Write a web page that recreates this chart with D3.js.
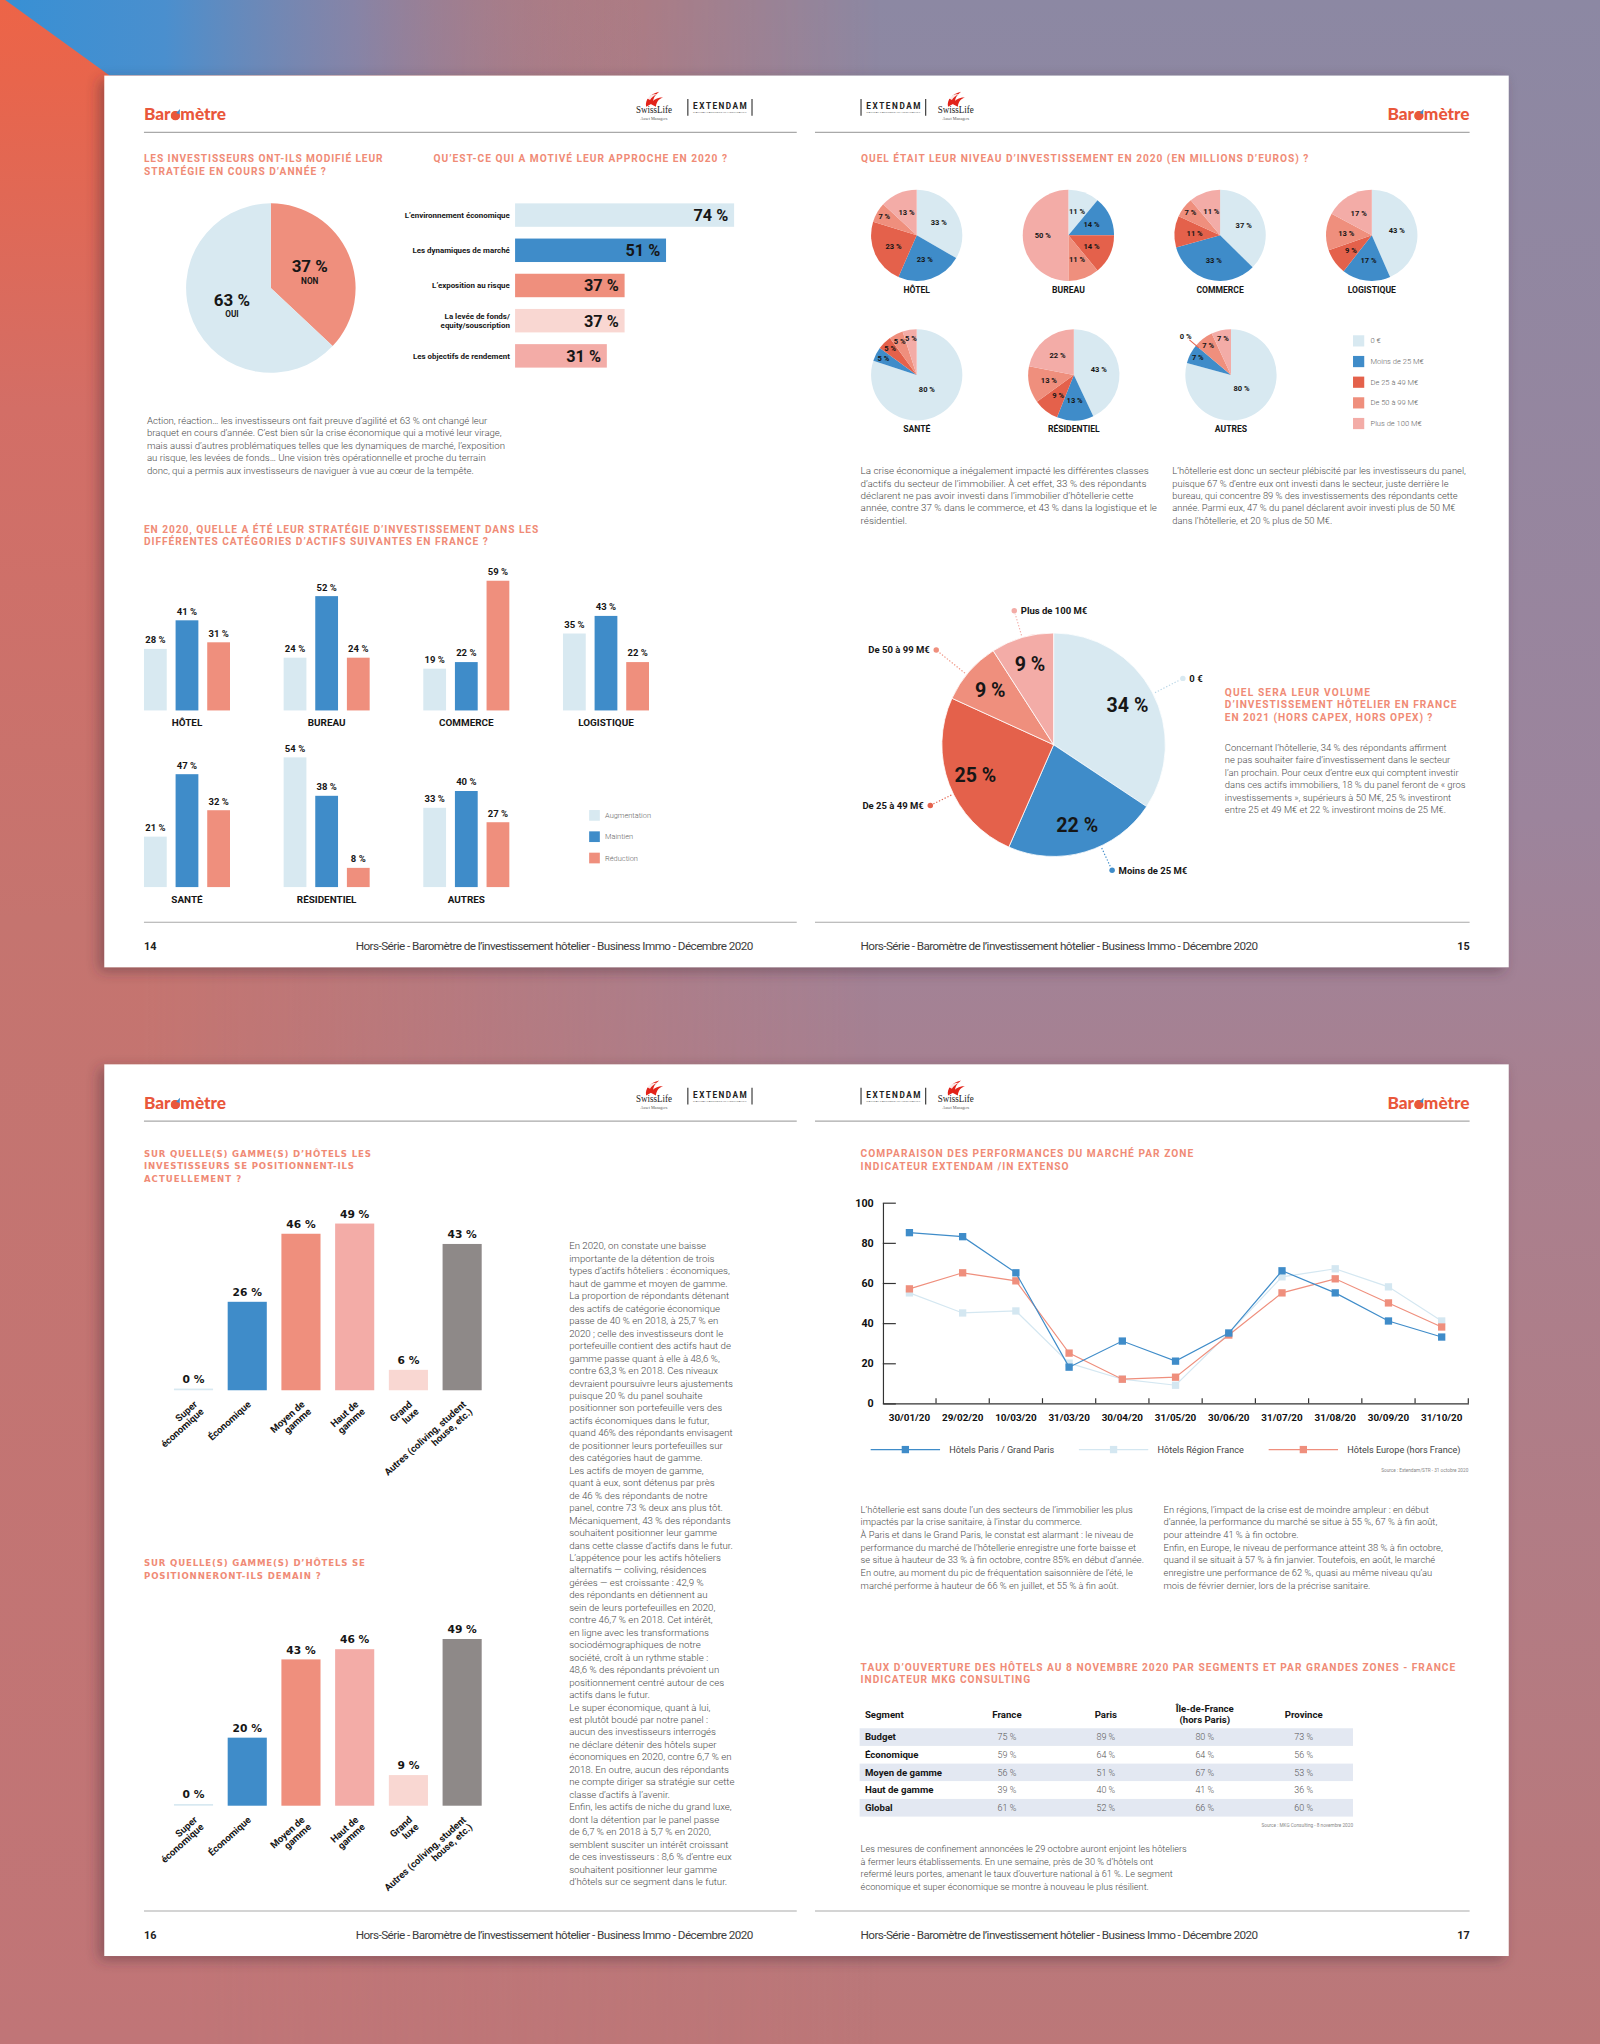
<!DOCTYPE html>
<html lang="fr"><head><meta charset="utf-8"><title>Baromètre</title>
<script src="https://cdn.jsdelivr.net/npm/d3@7/dist/d3.min.js"></script>
<style>html,body{margin:0;padding:0;background:#a87f8e;overflow:hidden}svg{display:block}</style>
</head><body>
<svg id="c" width="1600" height="2044" viewBox="0 0 1227 1568" preserveAspectRatio="none"></svg>
<script>
// ================= DATA =================
const changeLabels = ["OUI", "NON"];
const changeValues = [63, 37];

const motiveLabels = [["L’environnement économique"], ["Les dynamiques de marché"], ["L’exposition au risque"], ["La levée de fonds/", "equity/souscription"], ["Les objectifs de rendement"]];
const motiveValues = [74, 51, 37, 37, 31];

const assetCats = ["HÔTEL", "BUREAU", "COMMERCE", "LOGISTIQUE", "SANTÉ", "RÉSIDENTIEL", "AUTRES"];
const stratSeries = ["Augmentation", "Maintien", "Réduction"];
const stratAugmentation = [28, 24, 19, 35, 21, 54, 33];
const stratMaintien = [41, 52, 22, 43, 47, 38, 40];
const stratReduction = [31, 24, 59, 22, 32, 8, 27];

const investLevels = ["0 €", "Moins de 25 M€", "De 25 à 49 M€", "De 50 à 99 M€", "Plus de 100 M€"];
const invest0 = [33, 11, 37, 43, 80, 43, 80];
const investLt25 = [23, 14, 33, 17, 5, 13, 7];
const invest25to49 = [23, 14, 11, 9, 5, 9, 0];
const invest50to99 = [7, 11, 7, 13, 5, 13, 7];
const investGt100 = [13, 50, 11, 17, 5, 22, 7];

const hotel2021 = [34, 22, 25, 9, 9];

const gammeLabels = [["Super", "économique"], ["Économique"], ["Moyen de", "gamme"], ["Haut de", "gamme"], ["Grand", "luxe"], ["Autres (coliving, student", "house, etc.)"]];
const gammeNow = [0, 26, 46, 49, 6, 43];
const gammeFuture = [0, 20, 43, 46, 9, 49];

const perfDates = ["30/01/20", "29/02/20", "10/03/20", "31/03/20", "30/04/20", "31/05/20", "30/06/20", "31/07/20", "31/08/20", "30/09/20", "31/10/20"];
const perfParis = [85, 83, 65, 18, 31, 21, 35, 66, 55, 41, 33];
const perfRegion = [55, 45, 46, 20, 12, 9, 35, 63, 67, 58, 41];
const perfEurope = [57, 65, 61, 25, 12, 13, 34, 55, 62, 50, 38];
const perfTicks = [0, 20, 40, 60, 80, 100];

const tableSegments = ["Budget", "Économique", "Moyen de gamme", "Haut de gamme", "Global"];
const tableZones = ["France", "Paris", "Île-de-France|(hors Paris)", "Province"];
const openFrance = [75, 59, 56, 39, 61];
const openParis = [89, 64, 51, 40, 52];
const openIdf = [80, 64, 67, 41, 66];
const openProvince = [73, 56, 53, 36, 60];

// ================= STYLE / LAYOUT =================
const C = {light:"#d8e9f1", blue:"#3f8cc9", red:"#e4614b", salmon:"#ef8f7d", pink:"#f3aca7", blush:"#f9d7d2",
  grey:"#8e8988", title:"#f08b76", brand:"#e9573b", text:"#4a4a4a", dark:"#161616"};
const investColors = [C.light, C.blue, C.red, C.salmon, C.pink];
const motiveColors = [C.light, C.blue, C.salmon, C.blush, C.pink];
const stratColors = [C.light, C.blue, C.salmon];
const gammeColors = [C.light, C.blue, C.salmon, C.pink, C.blush, C.grey];
// callout placement tweaks for the 2021 pie (degrees shift, radius factor)
const calloutShift = [1, -8.6, -5.3, -2, 0];
const calloutDist = [1.3, 1.24, 1.23, 1.35, 1.25];
const F = {body:"Roboto, 'Open Sans', sans-serif", narrow:"'Liberation Sans Narrow', 'Roboto', sans-serif",
  wide:"'DejaVu Sans', Verdana, sans-serif", title:"Roboto, 'Open Sans', sans-serif", serif:"'Liberation Serif', serif",
  brand:"Lato, 'Open Sans', sans-serif"};

const svg = d3.select("#c");
const defs = svg.append("defs");

function txt(g, x, y, s, o = {}) {
  const t = g.append("text").attr("x", x).attr("y", y).text(s)
    .attr("font-family", o.f || F.body).attr("font-size", o.s || 7).attr("font-weight", o.w || 400)
    .attr("fill", o.c || "#222").attr("text-anchor", o.a || "start");
  if (o.ls) t.attr("letter-spacing", o.ls);
  if (o.len) t.attr("textLength", o.len).attr("lengthAdjust", o.adj || "spacing");
  if (o.dy) t.attr("dy", o.dy);
  return t;
}
function titleLines(g, x, ys, lines, lens, o = {}) {
  lines.forEach((l, i) => txt(g, x, ys[i], l, {f: o.f || F.title, w: 700, s: o.s || 7.8, c: C.title, len: lens[i]}));
}
function para(g, x, y, lh, lines, o = {}) {
  const t = g.append("text").attr("font-family", o.f || F.body).attr("font-weight", o.w || 300)
    .attr("font-size", o.s || 6.6).attr("fill", o.c || C.text);
  lines.forEach((l, i) => t.append("tspan").attr("x", x).attr("y", y + i * lh).text(l));
  if (o.fit) {
    const n = t.selectAll("tspan").nodes()[o.fit[0]];
    const w = n.getComputedTextLength();
    if (w > 0) t.attr("font-size", (o.s || 6.6) * o.fit[1] / w);
  }
  return t;
}

// ================= BACKGROUND =================
function lg(id, x2, y2, stops) {
  const g = defs.append("linearGradient").attr("id", id).attr("x1", 0).attr("y1", 0).attr("x2", x2).attr("y2", y2);
  stops.forEach(s => g.append("stop").attr("offset", s[0]).attr("stop-color", s[1]).attr("stop-opacity", s.length > 2 ? s[2] : 1));
}
lg("bgV", 0, 1, [[0, "#8c88a3"], [0.4, "#9c849c"], [0.55, "#a9808f"], [1, "#bc7778"]]);
lg("leftV", 0, 1, [[0, "#ed6447"], [0.04, "#e8654c"], [0.2, "#d36e66"], [0.45, "#c5746f"], [1, "#c07577"]]);
lg("leftM", 1, 0, [[0, "#fff"], [0.09, "#fff"], [0.55, "#000"]]);
lg("blueH", 1, 0, [[0, "#3890d4"], [0.1, "#4a8fce"], [0.22, "#6e8bbd", 0.75], [0.4, "#8c88a3", 0]]);
defs.append("mask").attr("id", "lm").attr("maskUnits", "userSpaceOnUse").attr("x", 0).attr("y", 0).attr("width", 1227).attr("height", 1568)
  .append("rect").attr("width", 1227).attr("height", 1568).attr("fill", "url(#leftM)");
const sh = defs.append("filter").attr("id", "sh").attr("x", -0.05).attr("y", -0.05).attr("width", 1.1).attr("height", 1.12);
sh.append("feDropShadow").attr("dx", -4).attr("dy", 3).attr("stdDeviation", 5).attr("flood-color", "#4a2a3a").attr("flood-opacity", 0.45);

svg.append("rect").attr("width", 1227).attr("height", 1568).attr("fill", "url(#bgV)");
svg.append("rect").attr("width", 1227).attr("height", 1568).attr("fill", "url(#leftV)").attr("mask", "url(#lm)");
svg.append("polygon").attr("points", "4,0 84,58 1227,58 1227,0").attr("fill", "url(#blueH)");
[58, 816.5].forEach(y => svg.append("rect").attr("x", 80).attr("y", y).attr("width", 1077).attr("height", 684)
  .attr("fill", "#fff").attr("filter", "url(#sh)"));

// ================= HEADER / FOOTER =================
function brand(g, x, y, anchor) {
  const t = txt(g, x, y, "Baromètre", {f: F.brand, w: 900, s: 12.6, c: C.brand, a: anchor, len: 63, adj: "spacingAndGlyphs"});
  try {
    const e = t.node().getExtentOfChar(3);
    const cx = e.x + e.width / 2, cy = y - 3.3;
    g.append("circle").attr("cx", cx).attr("cy", cy).attr("r", 3.4).attr("fill", C.brand);
    g.append("path").attr("d", `M${cx + 0.6},${cy - 2.2} L${cx + 3.6},${cy - 5.2} L${cx + 3.2},${cy - 1.2} Z`).attr("fill", C.blue);
  } catch (err) {}
}
function swiss(g, cx, top) {
  const s = g.append("g").attr("transform", `translate(${cx},${top})`);
  s.append("path").attr("d", "M-6,11.5 C-7,6 -3,1.5 4,0 C1,2.5 -1,5 -0.5,8.5 Z").attr("fill", "#e2231a");
  s.append("path").attr("d", "M-2.5,9.5 C-0.5,6 3,4.2 7,4.5 C4,5.5 2,7.5 1.5,11.5 Z").attr("fill", "#e2231a");
  s.append("path").attr("d", "M-5.5,5 C-4,3 -1,1.8 2.5,1.8 C0,3 -2,4.5 -3,6.5 Z").attr("fill", "#fff").attr("opacity", 0.9);
  txt(g, cx, top + 16.3, "SwissLife", {f: F.serif, s: 8, c: "#222", a: "middle", len: 27.6, adj: "spacingAndGlyphs"});
  txt(g, cx, top + 21.8, "Asset Managers", {f: F.serif, s: 3.2, c: "#555", a: "middle"});
}
function extendam(g, x1, x2) {
  [x1, x2].forEach(x => g.append("line").attr("x1", x).attr("x2", x).attr("y1", 75.9).attr("y2", 88.7).attr("stroke", "#222").attr("stroke-width", 0.8));
  txt(g, (x1 + x2) / 2, 83.8, "EXTENDAM", {f: F.narrow, w: 700, s: 6.3, c: "#222", a: "middle", len: (x2 - x1) - 8});
  txt(g, (x1 + x2) / 2, 86.9, "CAPITAL PARTNERS IN HOSPITALITY", {f: F.body, s: 1.5, c: "#777", a: "middle", len: (x2 - x1) - 8, adj: "spacingAndGlyphs"});
}
function header(side, yo) {
  const g = svg.append("g").attr("transform", `translate(0,${yo})`);
  if (side === "L") {
    brand(g, 110.4, 92.2, "start");
    swiss(g, 501.5, 70.3);
    extendam(g, 527.5, 576.7);
    g.append("line").attr("x1", 110.4).attr("x2", 611).attr("y1", 101.5).attr("y2", 101.5).attr("stroke", "#a9a9a9").attr("stroke-width", 0.9);
  } else {
    extendam(g, 660.3, 709.9);
    swiss(g, 733, 70.3);
    brand(g, 1127, 92.2, "end");
    g.append("line").attr("x1", 625).attr("x2", 1127).attr("y1", 101.5).attr("y2", 101.5).attr("stroke", "#a9a9a9").attr("stroke-width", 0.9);
  }
}
const footText = "Hors-Série - Baromètre de l’investissement hôtelier - Business Immo - Décembre 2020";
function footer(side, num, yo) {
  const g = svg.append("g").attr("transform", `translate(0,${yo})`);
  const [x1, x2] = side === "L" ? [110.4, 611] : [625, 1127];
  g.append("line").attr("x1", x1).attr("x2", x2).attr("y1", 707.5).attr("y2", 707.5).attr("stroke", "#a9a9a9").attr("stroke-width", 0.9);
  if (side === "L") {
    txt(g, 110.4, 728.6, num, {f: F.title, w: 700, s: 8.3, c: "#222"});
    txt(g, 577.8, 728.6, footText, {f: F.narrow, s: 9, c: "#3d3d3d", a: "end", len: 305});
  } else {
    txt(g, 659.9, 728.6, footText, {f: F.narrow, s: 9, c: "#3d3d3d", len: 305});
    txt(g, 1127, 728.6, num, {f: F.title, w: 700, s: 8.3, c: "#222", a: "end"});
  }
}
const YO = 758.5;
header("L", 0); header("R", 0); header("L", YO); header("R", YO);
footer("L", "14", 0); footer("R", "15", 0); footer("L", "16", YO); footer("R", "17", YO);

// ================= PAGE 14 =================
const g14 = svg.append("g");
titleLines(g14, 110.4, [124.2, 133.9], ["LES INVESTISSEURS ONT-ILS MODIFIÉ LEUR", "STRATÉGIE EN COURS D’ANNÉE ?"], [183, 139.4]);
titleLines(g14, 332.5, [124.2], ["QU’EST-CE QUI A MOTIVÉ LEUR APPROCHE EN 2020 ?"], [225]);

// Pie OUI/NON
{
  const data = changeLabels.map((l, i) => ({label: l, value: changeValues[i]})).reverse();
  const pie = d3.pie().sort(null).value(d => d.value);
  const arc = d3.arc().innerRadius(0).outerRadius(65);
  const gp = g14.append("g").attr("transform", "translate(207.7,221)");
  const arcs = pie(data);
  gp.selectAll("path").data(arcs).join("path").attr("d", arc).attr("fill", d => d.data.label === "NON" ? C.salmon : C.light);
  arcs.forEach(d => {
    const [cx, cy] = arc.centroid(d);
    txt(gp, cx, cy + 0.6, d.data.value + " %", {f: F.narrow, w: 700, s: 13, c: C.dark, a: "middle"});
    txt(gp, cx, cy + 9.4, d.data.label, {f: F.narrow, w: 700, s: 6.3, c: C.dark, a: "middle"});
  });
}
// Motivation bars
{
  const mx = d3.scaleLinear().domain([0, 100]).range([395, 622]);
  const my = d3.scaleBand().domain(d3.range(motiveValues.length)).range([156, 282]).paddingInner(1 / 3);
  g14.selectAll(".mb").data(motiveValues).join("rect").attr("class", "mb")
    .attr("x", mx(0)).attr("y", (d, i) => my(i)).attr("width", d => mx(d) - mx(0)).attr("height", my.bandwidth())
    .attr("fill", (d, i) => motiveColors[i]);
  motiveValues.forEach((v, i) => txt(g14, mx(v) - 4.5, my(i) + my.bandwidth() / 2 + 4.5, v + " %", {f: F.narrow, w: 700, s: 12.5, c: C.dark, a: "end"}));
  const probe = txt(g14, 0, -50, motiveLabels[0][0], {f: F.narrow, w: 700, s: 6.3});
  const fs = 6.3 * 80.7 / (probe.node().getComputedTextLength() || 80.7);
  probe.remove();
  motiveLabels.forEach((lines, i) => {
    const cy = my(i) + my.bandwidth() / 2;
    lines.forEach((l, j) => txt(g14, 391, cy + 2.2 + (lines.length === 1 ? 0 : (j === 0 ? -3.6 : 3.6)), l, {f: F.narrow, w: 700, s: fs, c: C.dark, a: "end"}));
  });
}
para(g14, 112.7, 325, 9.6, [
  "Action, réaction… les investisseurs ont fait preuve d’agilité et 63 % ont changé leur",
  "braquet en cours d’année. C’est bien sûr la crise économique qui a motivé leur virage,",
  "mais aussi d’autres problématiques telles que les dynamiques de marché, l’exposition",
  "au risque, les levées de fonds… Une vision très opérationnelle et proche du terrain",
  "donc, qui a permis aux investisseurs de naviguer à vue au cœur de la tempête."], {fit: [0, 260.8]});
titleLines(g14, 110.4, [408.5, 418.2], ["EN 2020, QUELLE A ÉTÉ LEUR STRATÉGIE D’INVESTISSEMENT DANS LES", "DIFFÉRENTES CATÉGORIES D’ACTIFS SUIVANTES EN FRANCE ?"], [302.4, 263.7]);

// Grouped bars
{
  const series = [stratAugmentation, stratMaintien, stratReduction];
  const gx0 = d3.scaleBand().domain(d3.range(4)).range([110.4, 497.7]).paddingInner(0.384);
  const gx1 = d3.scaleBand().domain(stratSeries).range([0, gx0.bandwidth()]).paddingInner(0.28);
  const rows = [{cats: [0, 1, 2, 3], base: 545}, {cats: [4, 5, 6], base: 680.5}];
  rows.forEach(row => {
    const ymax = d3.max(row.cats, c => d3.max(series, s => s[c]));
    const y = d3.scaleLinear().domain([0, ymax]).range([0, 99.5]);
    row.cats.forEach((c, k) => {
      const gg = g14.append("g").attr("transform", `translate(${gx0(k)},0)`);
      stratSeries.forEach((sn, si) => {
        const v = series[si][c];
        gg.append("rect").attr("x", gx1(sn)).attr("width", gx1.bandwidth()).attr("y", row.base - y(v)).attr("height", y(v)).attr("fill", stratColors[si]);
        txt(gg, gx1(sn) + gx1.bandwidth() / 2, row.base - y(v) - 4.3, v + " %", {f: F.narrow, w: 700, s: 7.3, c: C.dark, a: "middle"});
      });
      txt(gg, gx0.bandwidth() / 2, row.base + 11.9, assetCats[c], {f: F.narrow, w: 700, s: 7.6, c: C.dark, a: "middle"});
    });
  });
  stratSeries.forEach((s, i) => {
    const cy = 625.5 + i * 16.35;
    g14.append("rect").attr("x", 451.8).attr("y", cy - 4.1).attr("width", 8.2).attr("height", 8.2).attr("fill", stratColors[i]);
    txt(g14, 464, cy + 2, s, {f: F.body, w: 300, s: 5.7, c: "#666"});
  });
}

// ================= PAGE 15 =================
const g15 = svg.append("g");
titleLines(g15, 660.3, [124.2], ["QUEL ÉTAIT LEUR NIVEAU D’INVESTISSEMENT EN 2020 (EN MILLIONS D’EUROS) ?"], [343]);
{
  const cols1 = d3.scalePoint().domain([0, 1, 2, 3]).range([703, 1052]);
  const cols2 = d3.scalePoint().domain([4, 5, 6]).range([703, 944]);
  const levels = [invest0, investLt25, invest25to49, invest50to99, investGt100];
  const r = 35;
  const pie = d3.pie().sort(null).value(d => d.v);
  const arc = d3.arc().innerRadius(0).outerRadius(r);
  assetCats.forEach((cat, c) => {
    const cx = c < 4 ? cols1(c) : cols2(c);
    const cy = c < 4 ? 180.5 : 287.6;
    const gp = g15.append("g").attr("transform", `translate(${cx},${cy})`);
    const data = levels.map((arr, k) => ({k, v: arr[c]}));
    const arcs = pie(data);
    gp.selectAll("path").data(arcs).join("path").attr("d", arc).attr("fill", d => investColors[d.data.k]);
    arcs.forEach(d => {
      const a = (d.startAngle + d.endAngle) / 2, v = d.data.v;
      if (v === 0) {
        const sx = Math.sin(a), sy = -Math.cos(a);
        gp.append("line").attr("x1", sx * r * 0.92).attr("y1", sy * r * 0.92).attr("x2", sx * r * 1.19).attr("y2", sy * r * 1.19)
          .attr("stroke", C.red).attr("stroke-width", 0.8);
        txt(gp, sx * r * 1.3, sy * r * 1.3, v + " %", {f: F.narrow, w: 700, s: 5.8, c: C.dark, a: "middle", dy: "0.35em"});
        return;
      }
      const R = v >= 60 ? 0.38 * r : v < 8 ? 0.82 * r : 0.56 * r;
      txt(gp, Math.sin(a) * R, -Math.cos(a) * R, v + " %", {f: F.narrow, w: 700, s: 5.8, c: C.dark, a: "middle", dy: "0.35em"});
    });
    txt(gp, 0, 44.1, cat, {f: F.narrow, w: 700, s: 6.6, c: C.dark, a: "middle"});
  });
  investLevels.forEach((l, i) => {
    const cy = 261.5 + i * 15.85;
    g15.append("rect").attr("x", 1037.6).attr("y", cy - 4.3).attr("width", 8.6).attr("height", 8.6).attr("fill", investColors[i]);
    txt(g15, 1051, cy + 2, l, {f: F.body, w: 300, s: 5.8, c: "#666"});
  });
}
para(g15, 660, 363.7, 9.55, [
  "La crise économique a inégalement impacté les différentes classes",
  "d’actifs du secteur de l’immobilier. À cet effet, 33 % des répondants",
  "déclarent ne pas avoir investi dans l’immobilier d’hôtellerie cette",
  "année, contre 37 % dans le commerce, et 43 % dans la logistique et le",
  "résidentiel."], {fit: [0, 221]});
para(g15, 899, 363.7, 9.55, [
  "L’hôtellerie est donc un secteur plébiscité par les investisseurs du panel,",
  "puisque 67 % d’entre eux ont investi dans le secteur, juste derrière le",
  "bureau, qui concentre 89 % des investissements des répondants cette",
  "année. Parmi eux, 47 % du panel déclarent avoir investi plus de 50 M€",
  "dans l’hôtellerie, et 20 % plus de 50 M€."], {fit: [0, 225]});

// Big pie 2021
{
  const R = 85.7;
  const data = investLevels.map((l, k) => ({label: l, v: hotel2021[k], k}));
  const pie = d3.pie().sort(null).value(d => d.v);
  const arc = d3.arc().innerRadius(0).outerRadius(R);
  const lab = d3.arc().innerRadius(R * 0.5).outerRadius(R);
  const gp = g15.append("g").attr("transform", "translate(808,571.3)");
  const arcs = pie(data);
  gp.selectAll("path").data(arcs).join("path").attr("d", arc).attr("fill", d => investColors[d.data.k]).attr("stroke", "#fff").attr("stroke-width", 0.6);
  arcs.forEach(d => {
    const [x, y] = lab.centroid(d);
    txt(gp, x, y, d.data.v + " %", {f: F.narrow, w: 700, s: 15, c: C.dark, a: "middle", dy: "0.36em"});
    const k = d.data.k;
    const a = (d.startAngle + d.endAngle) / 2 + calloutShift[k] * Math.PI / 180, sx = Math.sin(a), sy = -Math.cos(a);
    const col = investColors[k];
    const dist = calloutDist[k];
    gp.append("line").attr("x1", sx * R * 1.02).attr("y1", sy * R * 1.02).attr("x2", sx * R * (dist - 0.03)).attr("y2", sy * R * (dist - 0.03))
      .attr("stroke", k === 0 ? "#b9d6e6" : col).attr("stroke-width", 0.9).attr("stroke-dasharray", "1,1.4");
    const dx = sx * R * dist, dy = sy * R * dist;
    gp.append("circle").attr("cx", dx).attr("cy", dy).attr("r", 2.1).attr("fill", col);
    const right = sx > -0.4;
    txt(gp, dx + (right ? 5 : -5), dy + 2.5, d.data.label, {f: F.narrow, w: 700, s: 7.3, c: C.dark, a: right ? "start" : "end"});
  });
}
titleLines(g15, 939.3, [533.8, 543.4, 552.8], ["QUEL SERA LEUR VOLUME", "D’INVESTISSEMENT HÔTELIER EN FRANCE", "EN 2021 (HORS CAPEX, HORS OPEX) ?"], [111.3, 177.7, 159.2]);
para(g15, 939.3, 575.8, 9.6, [
  "Concernant l’hôtellerie, 34 % des répondants affirment",
  "ne pas souhaiter faire d’investissement dans le secteur",
  "l’an prochain. Pour ceux d’entre eux qui comptent investir",
  "dans ces actifs immobiliers, 18 % du panel feront de « gros",
  "investissements », supérieurs à 50 M€, 25 % investiront",
  "entre 25 et 49 M€ et 22 % investiront moins de 25 M€."], {fit: [0, 170.2]});

// ================= PAGE 16 =================
const g16 = svg.append("g");
titleLines(g16, 110.4, [887.4, 897, 906.7], ["SUR QUELLE(S) GAMME(S) D’HÔTELS LES", "INVESTISSEURS SE POSITIONNENT-ILS", "ACTUELLEMENT ?"], [174, 161, 74.6], {f: F.wide, s: 6.6});
titleLines(g16, 110.4, [1201.6, 1211.2], ["SUR QUELLE(S) GAMME(S) D’HÔTELS SE", "POSITIONNERONT-ILS DEMAIN ?"], [169.5, 135.5], {f: F.wide, s: 6.6});
function gammeChart(g, base, values) {
  const x = d3.scaleBand().domain(d3.range(values.length)).range([133.4, 369.4]).paddingInner(0.272);
  const y = d3.scaleLinear().domain([0, 100]).range([0, 261]);
  const h = v => Math.max(y(v), 1.3);
  g.selectAll(null).data(values).join("rect").attr("x", (d, i) => x(i)).attr("width", x.bandwidth())
    .attr("y", d => base - h(d)).attr("height", d => h(d)).attr("fill", (d, i) => gammeColors[i]);
  values.forEach((v, i) => txt(g, x(i) + x.bandwidth() / 2, base - h(v) - 4.4, v + " %", {f: F.wide, w: 700, s: 8.2, c: C.dark, a: "middle"}));
  gammeLabels.forEach((lines, i) => {
    const cx = x(i) + x.bandwidth() / 2;
    const t = g.append("text").attr("transform", `translate(${cx + 3.4},${base + 11.5}) rotate(-42)`).attr("text-anchor", "end")
      .attr("font-family", F.narrow).attr("font-weight", 700).attr("font-size", 7.4).attr("fill", C.dark);
    lines.forEach((l, j) => t.append("tspan").attr("x", 0).attr("dy", j ? "1.0em" : 0).text(l));
  });
}
gammeChart(g16, 1066.5, gammeNow);
gammeChart(g16, 1385.2, gammeFuture);
para(g16, 436.5, 958.5, 9.56, [
  "En 2020, on constate une baisse",
  "importante de la détention de trois",
  "types d’actifs hôteliers : économiques,",
  "haut de gamme et moyen de gamme.",
  "La proportion de répondants détenant",
  "des actifs de catégorie économique",
  "passe de 40 % en 2018, à 25,7 % en",
  "2020 ; celle des investisseurs dont le",
  "portefeuille contient des actifs haut de",
  "gamme passe quant à elle à 48,6 %,",
  "contre 63,3 % en 2018. Ces niveaux",
  "devraient poursuivre leurs ajustements",
  "puisque 20 % du panel souhaite",
  "positionner son portefeuille vers des",
  "actifs économiques dans le futur,",
  "quand 46% des répondants envisagent",
  "de positionner leurs portefeuilles sur",
  "des catégories haut de gamme.",
  "Les actifs de moyen de gamme,",
  "quant à eux, sont détenus par près",
  "de 46 % des répondants de notre",
  "panel, contre 73 % deux ans plus tôt.",
  "Mécaniquement, 43 % des répondants",
  "souhaitent positionner leur gamme",
  "dans cette classe d’actifs dans le futur.",
  "L’appétence pour les actifs hôteliers",
  "alternatifs — coliving, résidences",
  "gérées — est croissante : 42,9 %",
  "des répondants en détiennent au",
  "sein de leurs portefeuilles en 2020,",
  "contre 46,7 % en 2018. Cet intérêt,",
  "en ligne avec les transformations",
  "sociodémographiques de notre",
  "société, croît à un rythme stable :",
  "48,6 % des répondants prévoient un",
  "positionnement centré autour de ces",
  "actifs dans le futur.",
  "Le super économique, quant à lui,",
  "est plutôt boudé par notre panel :",
  "aucun des investisseurs interrogés",
  "ne déclare détenir des hôtels super",
  "économiques en 2020, contre 6,7 % en",
  "2018. En outre, aucun des répondants",
  "ne compte diriger sa stratégie sur cette",
  "classe d’actifs à l’avenir.",
  "Enfin, les actifs de niche du grand luxe,",
  "dont la détention par le panel passe",
  "de 6,7 % en 2018 à 5,7 % en 2020,",
  "semblent susciter un intérêt croissant",
  "de ces investisseurs : 8,6 % d’entre eux",
  "souhaitent positionner leur gamme",
  "d’hôtels sur ce segment dans le futur."], {fit: [4, 122.6], s: 7});

// ================= PAGE 17 =================
const g17 = svg.append("g");
titleLines(g17, 660, [887.8, 897.5], ["COMPARAISON DES PERFORMANCES DU MARCHÉ PAR ZONE", "INDICATEUR EXTENDAM /IN EXTENSO"], [255, 159.5]);
{
  const lx = d3.scaleBand().domain(perfDates).range([677, 1126]);
  const ly = d3.scaleLinear().domain([0, 100]).range([1076.5, 922.5]);
  const ya = g17.append("g").attr("transform", "translate(677,0)")
    .call(d3.axisLeft(ly).tickValues(perfTicks).tickSizeInner(-10).tickSizeOuter(0).tickPadding(7));
  ya.select(".domain").attr("stroke", "#333").attr("stroke-width", 0.9);
  ya.selectAll(".tick line").attr("stroke", "#333").attr("stroke-width", 0.9);
  ya.selectAll(".tick text").attr("font-family", F.title).attr("font-weight", 700).attr("font-size", 8.2).attr("fill", "#111");
  const xa = g17.append("g").attr("transform", "translate(0,1076.5)").call(d3.axisBottom(lx).tickSize(0).tickPadding(8));
  xa.select(".domain").attr("stroke", "#333").attr("stroke-width", 0.9);
  xa.selectAll(".tick text").attr("font-family", F.title).attr("font-weight", 700).attr("font-size", 7.6).attr("fill", "#111");
  g17.selectAll(".bt").data(perfDates).join("line").attr("class", "bt")
    .attr("x1", d => lx(d) + lx.bandwidth()).attr("x2", d => lx(d) + lx.bandwidth())
    .attr("y1", 1076.5).attr("y2", 1072.6).attr("stroke", "#333").attr("stroke-width", 0.9);
  const series = [
    {name: "Hôtels Paris / Grand Paris", vals: perfParis, c: C.blue},
    {name: "Hôtels Région France", vals: perfRegion, c: "#d4e7f1"},
    {name: "Hôtels Europe (hors France)", vals: perfEurope, c: C.salmon}];
  const px = i => lx(perfDates[i]) + lx.bandwidth() / 2;
  const line = d3.line().x((d, i) => px(i)).y(d => ly(d));
  [1, 2, 0].forEach(si => {
    const s = series[si];
    g17.append("path").attr("d", line(s.vals)).attr("fill", "none").attr("stroke", s.c).attr("stroke-width", 0.9);
    g17.selectAll(null).data(s.vals).join("rect").attr("x", (d, i) => px(i) - 2.8).attr("y", d => ly(d) - 2.8)
      .attr("width", 5.6).attr("height", 5.6).attr("fill", s.c);
  });
  let lxp = 667.7;
  series.forEach(s => {
    const cy = 1112;
    g17.append("line").attr("x1", lxp).attr("x2", lxp + 53.2).attr("y1", cy).attr("y2", cy).attr("stroke", s.c).attr("stroke-width", 0.9);
    g17.append("rect").attr("x", lxp + 26.6 - 2.8).attr("y", cy - 2.8).attr("width", 5.6).attr("height", 5.6).attr("fill", s.c);
    const t = txt(g17, lxp + 60.3, cy + 2.5, s.name, {f: F.narrow, s: 7.0, c: "#444"});
    lxp = lxp + 60.3 + t.node().getComputedTextLength() + 19;
  });
  txt(g17, 1126, 1129.5, "Source : Extendam/STR - 31 octobre 2020", {f: F.body, s: 3.6, c: "#888", a: "end"});
}
para(g17, 660, 1160.3, 9.72, [
  "L’hôtellerie est sans doute l’un des secteurs de l’immobilier les plus",
  "impactés par la crise sanitaire, à l’instar du commerce.",
  "À Paris et dans le Grand Paris, le constat est alarmant : le niveau de",
  "performance du marché de l’hôtellerie enregistre une forte baisse et",
  "se situe à hauteur de 33 % à fin octobre, contre 85% en début d’année.",
  "En outre, au moment du pic de fréquentation saisonnière de l’été, le",
  "marché performe à hauteur de 66 % en juillet, et 55 % à fin août."], {fit: [0, 208.8]});
para(g17, 892.3, 1160.3, 9.72, [
  "En régions, l’impact de la crise est de moindre ampleur : en début",
  "d’année, la performance du marché se situe à 55 %, 67 % à fin août,",
  "pour atteindre 41 % à fin octobre.",
  "Enfin, en Europe, le niveau de performance atteint 38 % à fin octobre,",
  "quand il se situait à 57 % à fin janvier. Toutefois, en août, le marché",
  "enregistre une performance de 62 %, quasi au même niveau qu’au",
  "mois de février dernier, lors de la précrise sanitaire."], {fit: [3, 214]});
titleLines(g17, 660, [1281.8, 1291.4], ["TAUX D’OUVERTURE DES HÔTELS AU 8 NOVEMBRE 2020 PAR SEGMENTS ET PAR GRANDES ZONES - FRANCE", "INDICATEUR MKG CONSULTING"], [456, 130]);
{
  const tx = d3.scalePoint().domain(tableZones).range([772.2, 999.8]);
  const ty = d3.scaleBand().domain(tableSegments).range([1325.8, 1325.8 + 5 * 13.55]);
  const cols = [openFrance, openParis, openIdf, openProvince];
  g17.selectAll(".trow").data(tableSegments).join("rect").attr("class", "trow")
    .attr("x", 659.2).attr("width", 378.4).attr("y", d => ty(d)).attr("height", ty.bandwidth())
    .attr("fill", (d, i) => i % 2 === 0 ? "#e3e8f2" : "#fff");
  txt(g17, 663.3, 1318, "Segment", {f: F.title, w: 700, s: 7.4, c: C.dark});
  tableZones.forEach(z => {
    const parts = z.split("|");
    if (parts.length === 1) txt(g17, tx(z), 1318, parts[0], {f: F.title, w: 700, s: 7.4, c: C.dark, a: "middle"});
    else parts.forEach((p, j) => txt(g17, tx(z), 1313.6 + j * 8.1, p, {f: F.title, w: 700, s: 7.4, c: C.dark, a: "middle"}));
  });
  tableSegments.forEach((s, i) => {
    const cy = ty(s) + ty.bandwidth() / 2;
    txt(g17, 663.3, cy + 2.6, s, {f: F.title, w: 700, s: 7.4, c: C.dark});
    tableZones.forEach((z, k) => txt(g17, tx(z), cy + 2.5, cols[k][i] + " %", {f: F.body, w: 300, s: 6.9, c: "#555", a: "middle"}));
  });
  txt(g17, 1037.6, 1401.5, "Source : MKG Consulting - 8 novembre 2020", {f: F.body, s: 3.6, c: "#888", a: "end"});
}
para(g17, 660, 1421, 9.63, [
  "Les mesures de confinement annoncées le 29 octobre auront enjoint les hôteliers",
  "à fermer leurs établissements. En une semaine, près de 30 % d’hôtels ont",
  "refermé leurs portes, amenant le taux d’ouverture national à 61 %. Le segment",
  "économique et super économique se montre à nouveau le plus résilient."], {fit: [0, 250]});
</script>
</body></html>
